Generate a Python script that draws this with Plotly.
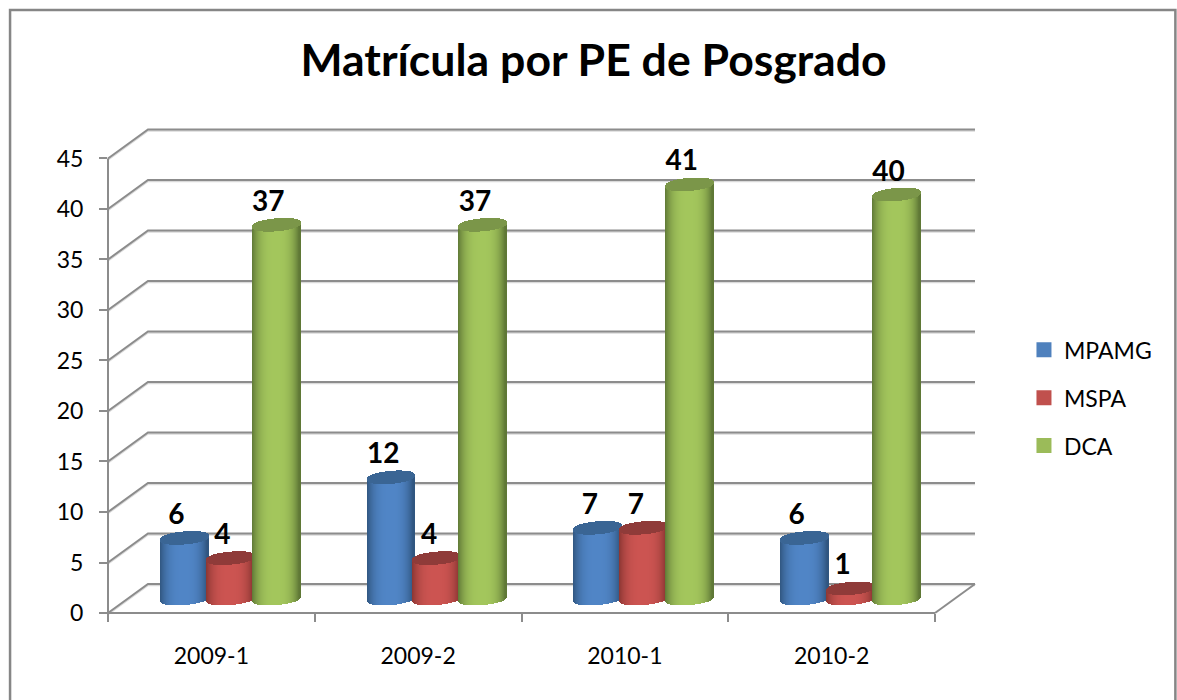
import numpy as np
import plotly.graph_objects as go

# ---- data ----
categories = ["2009-1", "2009-2", "2010-1", "2010-2"]
MPAMG = [6, 12, 7, 6]
MSPA = [4, 4, 7, 1]
DCA = [37, 37, 41, 40]
y_ticks = [0, 5, 10, 15, 20, 25, 30, 35, 40, 45]
series_names = ["MPAMG", "MSPA", "DCA"]

# ---- styles ----
LEGEND_COL = ["#4F81BD", "#C0504D", "#9BBB59"]
LIGHT = [(80, 133, 198), (204, 84, 81), (163, 198, 92)]
DARK = [(48, 86, 128), (138, 54, 50), (95, 120, 54)]
CAP = ["#3A6594", "#8F3B39", "#7B9649"]
GRID = "#8C8C8C"
FONT = "Lato"

W, H = 1177, 700
L, R, T, B = 107.5, 975, 128.5, 613
CAT_PX = (935 - 107.5) / 4
UNIT_PX = 455 / 45
DX = (975 - 935) / CAT_PX          # depth in category units
DY = 29 / UNIT_PX                  # depth in value units
STEP = 46 / CAT_PX
CYL_W = 48 / CAT_PX
CAP_B = 6.5 / UNIT_PX
SKEW = 2 / UNIT_PX
SHIFT = -1 / CAT_PX
NS = 48
X_MAX = 4 + DX
Y_MAX = (B - T) / UNIT_PX

fig = go.Figure()


def mix(a, b, f):
    return "rgb(%d,%d,%d)" % tuple(round(a[i] + (b[i] - a[i]) * f) for i in range(3))


for s, values in enumerate([MPAMG, MSPA, DCA]):
    bx, bb, bh, bc = [], [], [], []
    cx, cb, ch = [], [], []
    for c, v in enumerate(values):
        centre = c + 0.5 + DX / 2 + (s - 1) * STEP + SHIFT
        base = DY / 2
        for k in range(NS):
            t = -1 + (2 * k + 1) / NS
            root = (1 - t * t) ** 0.4
            px = centre + t * CYL_W / 2
            low = base - CAP_B * root + SKEW * t
            top = base + v + SKEW * t
            f = 1 - abs(t) ** 3 * (1.0 if t < 0 else 1.15)
            bx.append(px)
            bb.append(low)
            bh.append(top - low)
            bc.append(mix(DARK[s], LIGHT[s], max(f, 0)))
            cx.append(px)
            cb.append(top - CAP_B * root)
            ch.append(2 * CAP_B * root)
    fig.add_bar(x=bx, y=bh, base=bb, width=CYL_W / NS * 1.3,
                marker=dict(color=bc, line=dict(width=0)),
                showlegend=False, hoverinfo="skip")
    fig.add_bar(x=cx, y=ch, base=cb, width=CYL_W / NS * 1.3,
                marker=dict(color=CAP[s], line=dict(width=0)),
                showlegend=False, hoverinfo="skip")

# value labels
lx, ly, lt = [], [], []
for s, values in enumerate([MPAMG, MSPA, DCA]):
    for c, v in enumerate(values):
        lx.append(c + 0.5 + DX / 2 + (s - 1) * STEP - 9 / CAT_PX)
        ly.append(DY / 2 + v + 21 / UNIT_PX)
        lt.append(str(v))
fig.add_scatter(x=lx, y=ly, text=lt, mode="text", showlegend=False, hoverinfo="skip",
                textposition="middle center", cliponaxis=False,
                textfont=dict(family=FONT, size=28, color="black", weight=700))

# legend entries
for s, name in enumerate(series_names):
    fig.add_scatter(x=[None], y=[None], mode="markers", name=name, legendgroup=name,
                    marker=dict(symbol="square", size=15, color=LEGEND_COL[s]))


# walls, floor and axis lines, below the bars (paper refs so edges are not clipped)
def pth(points):
    return "M " + " L ".join(f"{x / X_MAX} {y / Y_MAX}" for x, y in points)


def line_shape(points, color, width=2):
    return dict(type="path", layer="below", xref="paper", yref="paper",
                path=pth(points), line=dict(color=color, width=width))


shapes = []
for v in y_ticks:
    shapes.append(line_shape([(0, v - 0.12), (DX, v + DY - 0.12), (X_MAX, v + DY - 0.12)], "#DADADA"))
    shapes.append(line_shape([(0, v), (DX, v + DY), (X_MAX, v + DY)], GRID))
shapes.append(line_shape([(4, 0), (X_MAX, DY)], GRID))
shapes.append(line_shape([(0, y_ticks[-1]), (0, 0), (4, 0)], GRID))

# outer frame (open at the bottom of the page)
fx = lambda p: (p - L) / (R - L)
fy = lambda p: (B - p) / (B - T)
shapes.append(dict(type="path", layer="below", xref="paper", yref="paper",
                   path=f"M {fx(9.5)} {fy(705)} L {fx(9.5)} {fy(9.5)} L {fx(1175.5)} {fy(9.5)} L {fx(1175.5)} {fy(705)}",
                   line=dict(color="#868686", width=2.5)))

fig.update_layout(
    width=W, height=H,
    margin=dict(l=L, r=W - R, t=T, b=H - B, pad=0),
    paper_bgcolor="white", plot_bgcolor="white",
    barmode="overlay", bargap=0,
    shapes=shapes,
    font=dict(family=FONT, size=23, color="black"),
    title=dict(text="Matrícula por PE de Posgrado", x=593.5 / W, xanchor="center",
               y=1 - 60 / H, yanchor="middle",
               font=dict(family=FONT, size=44.6, color="black", weight=700)),
    legend=dict(x=fx(1024), y=fy(328), xanchor="left", yanchor="top",
                bgcolor="rgba(0,0,0,0)", tracegroupgap=15, itemwidth=30,
                font=dict(family=FONT, size=23, color="black")),
    xaxis=dict(range=[0, X_MAX], showgrid=False, zeroline=False, showline=False,
               tickmode="array", tickvals=[i + 0.5 for i in range(4)], ticktext=categories,
               ticks="", ticklabelstandoff=27,
               minor=dict(tickmode="array", tickvals=[0, 1, 2, 3, 4], ticks="outside",
                          ticklen=8, tickwidth=2, tickcolor=GRID, showgrid=False),
               tickfont=dict(family=FONT, size=23, color="black")),
    yaxis=dict(range=[0, Y_MAX], showgrid=False, zeroline=False, showline=False,
               tickmode="array", tickvals=y_ticks, ticks="outside", ticklen=8, tickwidth=2,
               tickcolor=GRID, ticklabelstandoff=11,
               tickfont=dict(family=FONT, size=23, color="black")),
)

fig.write_html("out.html", config=dict(displayModeBar=False),
               post_script="document.body.style.margin='0';")
